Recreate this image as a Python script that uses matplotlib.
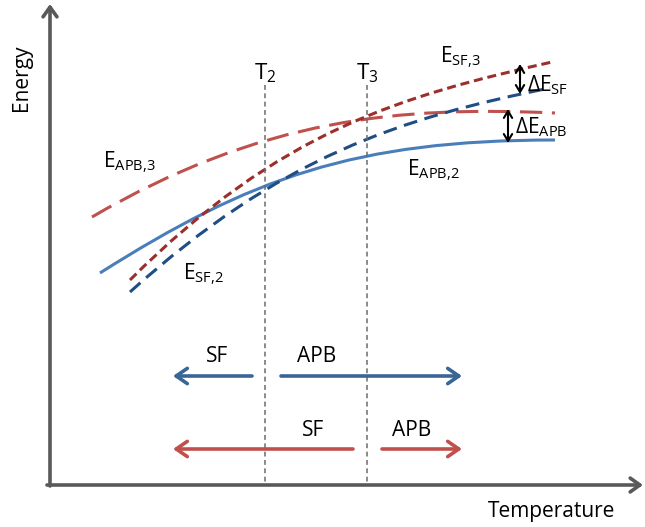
import matplotlib
matplotlib.use('Agg')
import matplotlib.pyplot as plt
from matplotlib.path import Path
from matplotlib.patches import PathPatch

# schematic curves as cubic Bezier control points
# (x = temperature px, y = energy px, y grows downward)
apb3_x = [92, 262, 400, 555]
apb3_y = [217, 118, 106, 113]
apb2_x = [100, 250, 355, 555]
apb2_y = [273, 178, 140, 140]
sf3_x = [130, 280, 402, 552]
sf3_y = [280, 130, 96, 62]
sf2_x = [130, 280, 400, 550]
sf2_y = [292, 157, 118, 88]

t_marks = [265, 367]
t_labels = ['$\\mathrm{T_2}$', '$\\mathrm{T_3}$']

# regime arrows: (tail, tip) in temperature px
blue_arrows = [(252, 173), (281, 462)]
red_arrows = [(353, 173), (382, 462)]
blue_words = [('SF', 217), ('APB', 317)]
red_words = [('SF', 313), ('APB', 412)]

plt.rcParams['font.family'] = ['Open Sans', 'DejaVu Sans']
plt.rcParams['mathtext.fontset'] = 'custom'
plt.rcParams['mathtext.rm'] = 'Open Sans'
plt.rcParams['mathtext.it'] = 'Open Sans'
plt.rcParams['lines.scale_dashes'] = False

fs = 15
gray = '#595959'
c_apb3 = '#c0504d'
c_apb2 = '#4a7ebb'
c_sf3 = '#9b2f2c'
c_sf2 = '#1f4e85'
c_barrow = '#3a6597'
c_rarrow = '#c0504d'


def bezier(ax, xs, ys, color, dashes=None):
    codes = [Path.MOVETO, Path.CURVE4, Path.CURVE4, Path.CURVE4]
    p = PathPatch(Path(list(zip(xs, ys)), codes), fill=False,
                  edgecolor=color, lw=2.2, capstyle='butt')
    if dashes is not None:
        p.set_linestyle((0, dashes))
    ax.add_patch(p)


fig = plt.figure(figsize=(6.45, 5.27), dpi=100)
ax = fig.add_axes([0, 0, 1, 1])
ax.set_xlim(0, 645)
ax.set_ylim(527, 0)
ax.axis('off')

# axes with arrow heads
ax.annotate('', xy=(643, 485), xytext=(47, 485),
            arrowprops=dict(arrowstyle='->,head_length=0.7,head_width=0.5',
                            color=gray, lw=2.6, shrinkA=0, shrinkB=0))
ax.annotate('', xy=(50, 4), xytext=(50, 486),
            arrowprops=dict(arrowstyle='->,head_length=0.7,head_width=0.5',
                            color=gray, lw=2.6, shrinkA=0, shrinkB=0))
ax.text(22, 78, 'Energy', rotation=90, ha='center', va='center', fontsize=fs)
ax.text(552, 512, 'Temperature', ha='center', va='center', fontsize=fs)

# T2 / T3 guide lines
for x, lab in zip(t_marks, t_labels):
    ax.plot([x, x], [85, 485], color='#6b6b6b', lw=1.1, dashes=(3.5, 2.5))
    ax.text(x, 79, lab, ha='center', va='baseline', fontsize=fs + 1)

# energy curves
bezier(ax, apb3_x, apb3_y, c_apb3, (16, 7))
bezier(ax, apb2_x, apb2_y, c_apb2)
bezier(ax, sf3_x, sf3_y, c_sf3, (6.5, 3.5))
bezier(ax, sf2_x, sf2_y, c_sf2, (10, 5.5))

ax.text(103, 167, '$\\mathrm{E_{APB{,}3}}$', ha='left', va='baseline', fontsize=fs)
ax.text(407, 175, '$\\mathrm{E_{APB{,}2}}$', ha='left', va='baseline', fontsize=fs)
ax.text(440, 62, '$\\mathrm{E_{SF{,}3}}$', ha='left', va='baseline', fontsize=fs)
ax.text(183, 279, '$\\mathrm{E_{SF{,}2}}$', ha='left', va='baseline', fontsize=fs)

# delta arrows
ax.annotate('', xy=(520, 64), xytext=(520, 94),
            arrowprops=dict(arrowstyle='<->,head_length=0.5,head_width=0.3',
                            color='black', lw=1.5, shrinkA=0, shrinkB=0))
ax.annotate('', xy=(508, 109), xytext=(508, 143),
            arrowprops=dict(arrowstyle='<->,head_length=0.5,head_width=0.3',
                            color='black', lw=1.5, shrinkA=0, shrinkB=0))
ax.text(527, 91, '$\\mathrm{ΔE_{SF}}$', ha='left', va='baseline', fontsize=fs)
ax.text(515, 133, '$\\mathrm{ΔE_{APB}}$', ha='left', va='baseline', fontsize=fs)

# regime arrows
for (tail, tip) in blue_arrows:
    ax.annotate('', xy=(tip, 376), xytext=(tail, 376),
                arrowprops=dict(arrowstyle='->,head_length=0.8,head_width=0.55',
                                color=c_barrow, lw=2.6, shrinkA=0, shrinkB=0))
for (tail, tip) in red_arrows:
    ax.annotate('', xy=(tip, 449), xytext=(tail, 449),
                arrowprops=dict(arrowstyle='->,head_length=0.8,head_width=0.55',
                                color=c_rarrow, lw=2.6, shrinkA=0, shrinkB=0))
for word, x in blue_words:
    ax.text(x, 357, word, ha='center', va='center', fontsize=fs)
for word, x in red_words:
    ax.text(x, 430, word, ha='center', va='center', fontsize=fs)

fig.savefig('out.png', dpi=100)
